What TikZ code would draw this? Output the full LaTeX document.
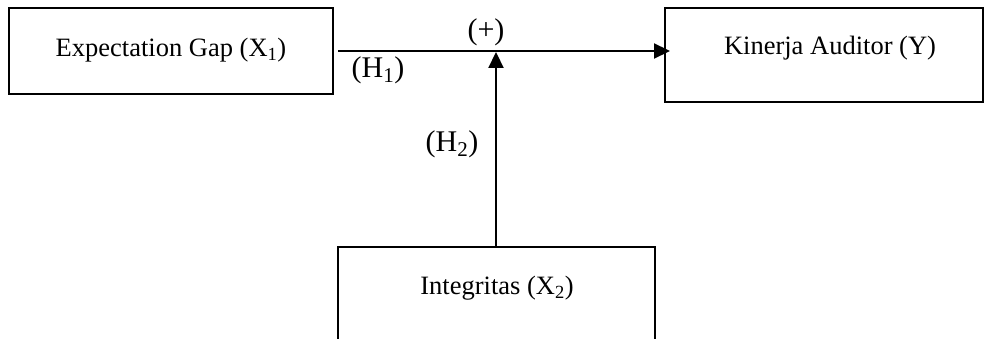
\documentclass[tikz,border=0pt]{standalone}
\usepackage{fontspec}
\setmainfont{Liberation Serif}
\usetikzlibrary{arrows.meta}
\begin{document}
\begin{tikzpicture}[x=1pt,y=-1pt,
  box/.style={draw,line width=1.8pt,rectangle},
  lbl/.style={font=\fontsize{26.5}{30}\selectfont, inner sep=0pt},
  hlbl/.style={font=\fontsize{30}{34}\selectfont, inner sep=0pt},
  conn/.style={line width=2.2pt,-{Triangle[length=16pt,width=15pt]}}]
\useasboundingbox (0,0) rectangle (985,339);
\begin{scope}
\clip (0,0) rectangle (985,339);
\draw[box] (9,8) rectangle (333,94);
\draw[box] (665,8) rectangle (983,102);
\draw[box] (338,247) rectangle (655,360);
\end{scope}
\node[lbl] (x1) at (171,50) {Expectation Gap (X\textsubscript{1})};
\node[lbl] (y) at (830,48) {Kinerja Auditor (Y)};
\node[lbl] (x2) at (497,288) {Integritas (X\textsubscript{2})};
\coordinate (s1) at (338,51);
\coordinate (t1) at (670,51);
\coordinate (s2) at (496,247);
\coordinate (t2) at (496,52);
\draw[conn] (s1) -- (t1);
\draw[conn] (s2) -- (t2);
\node[hlbl] (plus) at (486,32) {(+)};
\node[hlbl] (h1) at (378,70) {(H\textsubscript{1})};
\node[hlbl] (h2) at (452,144) {(H\textsubscript{2})};
\end{tikzpicture}
\end{document}
